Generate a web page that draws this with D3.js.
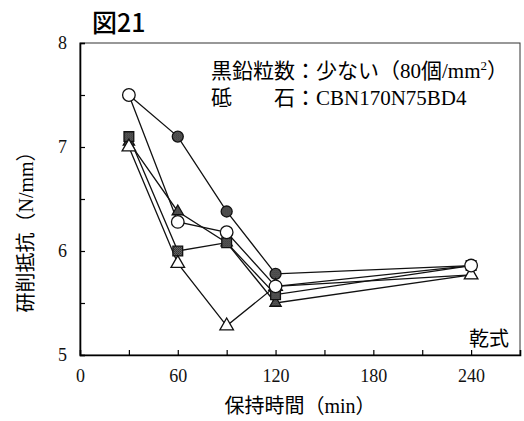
<!DOCTYPE html>
<html>
<head>
<meta charset="utf-8">
<script src="https://cdn.jsdelivr.net/npm/d3@7"></script>
<style>
  body { margin:0; background:#fff; }
</style>
</head>
<body>
<div id="chart"></div>
<script>

// 図21 data -- holding time (min) vs grinding resistance (N/mm)
var times = [30, 60, 90, 120, 240];
var xTicks = [0, 60, 120, 180, 240];
var xMinor = [30, 60, 90, 120, 150, 180, 210, 240];
var yTicks = [5, 6, 7, 8];
var yMinor = [5.5, 6.5, 7.5];

var filledCircle = [7.5, 7.1, 6.38, 5.78, 5.86];
var filledTri    = [7.05, 6.38, 6.08, 5.5, 5.77];
var filledSquare = [7.1, 6.0, 6.08, 5.58, 5.86];
var openTri      = [7.0, 5.88, 5.28, 5.66, 5.77];
var openCircle   = [7.5, 6.28, 6.18, 5.66, 5.86];

// draw order matters, open circle last so it sits on top
var series = [
  {name:"filledCircle", values: filledCircle, shape:"circle", fill:"url(#hatch)", size:95},
  {name:"filledTri", values: filledTri, shape:"triangle", fill:"url(#hatch)", size:55},
  {name:"filledSquare", values: filledSquare, shape:"square", fill:"url(#hatch)", size:95},
  {name:"openTri", values: openTri, shape:"triangle", fill:"#fff", size:80},
  {name:"openCircle", values: openCircle, shape:"circle", fill:"#fff", size:125}
];

var width = 524, height = 421;
var margin = {top:43, right:4, bottom:66, left:80};
var serif = "'Liberation Serif','Times New Roman',serif";
var jp = "'Liberation Serif','Noto Sans CJK JP',serif";

var svg = d3.select("#chart").append("svg")
    .attr("width", width)
    .attr("height", height);

// halftone looking fill for the dark markers
var pat = svg.append("defs").append("pattern")
    .attr("id","hatch")
    .attr("width",2).attr("height",2)
    .attr("patternUnits","userSpaceOnUse");
pat.append("rect").attr("width",2).attr("height",2).attr("fill","#707070");
pat.append("rect").attr("width",1).attr("height",1).attr("fill","#222");
pat.append("rect").attr("x",1).attr("y",1).attr("width",1).attr("height",1).attr("fill","#333");

var x = d3.scaleLinear()
    .domain([0, 270])
    .range([margin.left, width - margin.right]);

var y = d3.scaleLinear()
    .domain([5, 8])
    .range([height - margin.bottom, margin.top]);

// frame
svg.append("rect")
    .attr("x", x(0)).attr("y", y(8))
    .attr("width", x(270) - x(0))
    .attr("height", y(5) - y(8))
    .attr("fill","none")
    .attr("stroke","#333")
    .attr("stroke-width",1);

// x axis, ticks point inward
var xAxis = svg.append("g")
    .attr("transform","translate(0," + y(5) + ")")
    .call(d3.axisBottom(x).tickValues(xMinor).tickSize(-5).tickFormat(""));
xAxis.select(".domain").attr("stroke-width",1.6);
xAxis.selectAll(".tick line").attr("stroke-width",1.2);

svg.append("g")
    .attr("transform","translate(0," + y(5) + ")")
    .call(d3.axisBottom(x).tickValues(xTicks).tickSize(0).tickPadding(14))
    .attr("font-family", serif)
    .attr("font-size", 18)
    .call(function(g){ g.select(".domain").remove(); })
    .selectAll("text")
    .attr("fill","#111");

// y axis
var yAxis = svg.append("g")
    .attr("transform","translate(" + x(0) + ",0)")
    .call(d3.axisRight(y).tickValues(yTicks.concat(yMinor)).tickSize(5).tickFormat(""));
yAxis.select(".domain").attr("stroke-width",1.6);
yAxis.selectAll(".tick line").attr("stroke-width",1.2);

svg.append("g")
    .attr("transform","translate(" + x(0) + ",0)")
    .call(d3.axisLeft(y).tickValues(yTicks).tickSize(0).tickPadding(13).tickFormat(d3.format("d")))
    .attr("font-family", serif)
    .attr("font-size", 18)
    .call(function(g){ g.select(".domain").remove(); })
    .selectAll("text")
    .attr("fill","#111");

// lines
var line = d3.line()
    .x(function(d,i){ return x(times[i]); })
    .y(function(d){ return y(d); });

svg.selectAll(".series")
    .data(series)
  .enter().append("path")
    .attr("class","series")
    .attr("d", function(d){ return line(d.values); })
    .attr("fill","none")
    .attr("stroke","#111")
    .attr("stroke-width",1.3);

// markers
var sym = {circle: d3.symbolCircle, triangle: d3.symbolTriangle, square: d3.symbolSquare};

series.forEach(function(s){
  svg.selectAll(".m-" + s.name)
      .data(s.values)
    .enter().append("path")
      .attr("class","m-" + s.name)
      .attr("transform", function(d,i){ return "translate(" + x(times[i]) + "," + y(d) + ")"; })
      .attr("d", d3.symbol().type(sym[s.shape]).size(s.size))
      .attr("fill", s.fill)
      .attr("stroke","#111")
      .attr("stroke-width",1.3);
});

// texts
svg.append("text")
    .attr("x",92).attr("y",32)
    .attr("font-family","'Noto Sans CJK JP',sans-serif")
    .attr("font-weight",500)
    .attr("font-size","25px")
    .text("図21");

svg.append("text")
    .attr("x",211).attr("y",78)
    .attr("font-family",jp)
    .attr("font-size","21px")
    .html("黒鉛粒数：少ない（80個/mm<tspan dy='-8' font-size='13px'>2</tspan><tspan dy='8'>）</tspan>");

svg.append("text")
    .attr("x",211).attr("y",105)
    .attr("font-family",jp)
    .attr("font-size","21px")
    .text("砥　　石：CBN170N75BD4");

svg.append("text")
    .attr("x",509).attr("y",346)
    .attr("text-anchor","end")
    .attr("font-family",jp)
    .attr("font-size","20px")
    .text("乾式");

svg.append("text")
    .attr("x",300).attr("y",413)
    .attr("text-anchor","middle")
    .attr("font-family",jp)
    .attr("font-size","20px")
    .text("保持時間（min）");

svg.append("text")
    .attr("transform","translate(33," + 227 + ")rotate(-90)")
    .attr("text-anchor","middle")
    .attr("font-family",jp)
    .attr("font-size","20px")
    .text("研削抵抗（N/mm）");

</script>
</body>
</html>
